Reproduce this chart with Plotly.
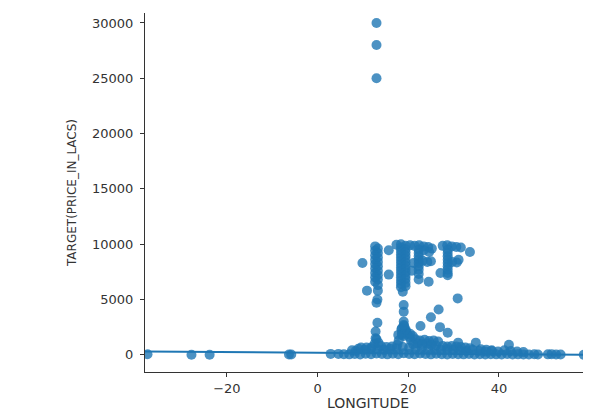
import plotly.graph_objects as go

# ---- data (LONGITUDE vs TARGET(PRICE_IN_LACS)) ----
outlier_lon = [13.0, 13.0, 13.0]
outlier_price = [30000, 28000, 25000]

west_lon = [-37.5, -27.8, -23.8, -6.3, -5.8, 2.9, 4.6]
west_price = [50, 0, 0, 20, 20, 80, 80]

band_lon = [5.8, 7.0, 8.2, 9.4, 10.6, 11.8, 13.0, 14.2, 15.4, 16.6,
            17.8, 19.0, 20.2, 21.4, 22.6, 23.8, 25.0, 26.2, 27.4, 28.6,
            29.8, 31.0, 32.2, 33.4, 34.6, 35.8, 37.0, 38.2, 39.4, 40.6,
            41.8, 43.0, 44.2, 45.4, 46.6, 47.8, 48.6, 50.8, 51.6, 52.6,
            53.6, 58.7, 59.7]
band_price = [60, 40, 80, 30, 90, 50, 120, 70, 40, 90,
              60, 150, 80, 50, 110, 70, 40, 90, 60, 30,
              80, 50, 40, 70, 30, 60, 20, 50, 40, 30,
              80, 20, 40, 30, 20, 50, 30, 40, 60, 30,
              20, 10, 20]

row2_lon = [7.6, 9.0, 10.4, 11.8, 13.2, 14.6, 16.0, 17.4, 18.8, 20.2,
            21.6, 23.0, 24.4, 25.8, 27.2, 28.6, 30.0, 31.4, 32.8, 34.2,
            35.6, 37.0, 38.4, 39.8, 41.2, 42.6, 44.0, 45.4]
row2_price = [400, 550, 450, 600, 500, 450, 550, 600, 700, 650,
              550, 600, 500, 550, 450, 500, 450, 400, 350, 450,
              350, 300, 350, 300, 400, 350, 300, 250]

row3_lon = [8.4, 9.6, 10.8, 12.0, 13.0, 14.0, 15.2, 16.4, 17.6, 18.6,
            19.6, 20.6, 21.6, 22.6, 23.6, 24.6, 25.6, 26.6, 27.6, 28.6,
            29.6, 30.6, 31.6, 32.6, 33.6, 34.9, 36.0, 37.2, 38.4, 42.2]
row3_price = [350, 650, 650, 700, 1400, 800, 700, 750, 900, 1800,
              2100, 1300, 1400, 1300, 1350, 1250, 1300, 1200, 800, 750,
              800, 750, 700, 650, 600, 1100, 500, 450, 400, 900]

row4_lon = [17.9, 18.5, 19.1, 19.7, 20.3, 21.1, 22.1, 23.1, 24.1, 25.1,
            26.1, 12.6, 13.4]
row4_price = [1300, 2300, 2600, 1900, 1600, 950, 1000, 950, 1000, 900,
              850, 1000, 1100]

mid_lon = [18.6, 19.4, 18.6, 19.4, 19.0, 19.0, 19.0, 18.8, 19.0, 19.0,
           17.8, 20.4, 21.0, 22.7, 25.0, 26.7, 27.0, 28.7, 31.0, 12.8,
           12.8, 13.2, 13.0, 13.2, 13.3, 10.9, 30.9]
mid_price = [1900, 2100, 2400, 2300, 3000, 3900, 4500, 5700, 2700, 1700,
             1800, 1900, 1700, 2600, 3400, 4100, 2500, 2000, 1100, 1500,
             2100, 2900, 4700, 5000, 5800, 5800, 5100]

col1_lon = [12.7, 13.3, 12.7, 13.3, 12.7, 13.3, 12.7, 13.3, 12.7, 13.3,
            12.7, 13.3, 12.7, 13.3, 12.7, 13.3, 12.7, 13.3, 9.9, 15.7, 15.7]
col1_price = [9800, 9600, 9400, 9200, 9000, 8800, 8600, 8400, 8200, 8000,
              7800, 7600, 7400, 7200, 7000, 6800, 6600, 6300, 8300, 9450, 7250]

col2_lon = [18.4, 18.4, 18.4, 18.4, 18.4, 18.4, 18.4, 18.4, 18.4, 18.4,
            18.4, 18.4, 18.4, 18.4,
            19.4, 19.4, 19.4, 19.4, 19.4, 19.4, 19.4, 19.4, 19.4, 19.4,
            19.4, 19.4, 19.4]
col2_price = [10000, 9700, 9400, 9100, 8800, 8500, 8200, 7900, 7600, 7300,
              7000, 6700, 6400, 6100,
              9850, 9550, 9250, 8950, 8650, 8350, 8050, 7750, 7450, 7150,
              6850, 6500, 6200]

col3_lon = [17.4, 20.4, 21.4, 22.4, 23.4, 24.4, 25.2, 24.6, 23.4,
            22.3, 22.3, 22.3, 22.3, 22.3, 22.3, 22.3, 22.3, 22.3,
            23.2, 24.2, 25.0, 21.2, 24.5, 27.1, 20.8]
col3_price = [9950, 9900, 9850, 9900, 9800, 9750, 9600, 9300, 9450,
              9500, 9200, 8900, 8600, 8300, 8000, 7700, 7300, 6800,
              8500, 8400, 8450, 8300, 6600, 7400, 7600]

col4_lon = [27.6, 28.6, 29.6, 30.6, 31.6, 33.6,
            28.7, 28.7, 28.7, 28.7, 28.7, 28.7, 28.7, 28.7, 28.7,
            29.7, 30.7, 31.1]
col4_price = [9850, 9900, 9800, 9750, 9700, 9300,
              9500, 9200, 8900, 8600, 8300, 8000, 7700, 7400, 7200,
              8400, 8350, 8600]

# regression line parameters
reg_intercept = 184
reg_slope = -3.06

x_range = [-38.05, 60.3]
y_range = [-1555, 30900]

lon = (outlier_lon + west_lon + band_lon + row2_lon + row3_lon + row4_lon
       + mid_lon + col1_lon + col2_lon + col3_lon + col4_lon)
price = (outlier_price + west_price + band_price + row2_price + row3_price
         + row4_price + mid_price + col1_price + col2_price + col3_price
         + col4_price)

blue = "#1f77b4"
ink = "#333333"

fig = go.Figure()
fig.add_trace(go.Scatter(
    x=lon, y=price, mode="markers",
    marker=dict(color=blue, size=10, opacity=0.8, line=dict(width=0)),
    showlegend=False,
))
fig.add_trace(go.Scatter(
    x=x_range,
    y=[reg_intercept + reg_slope * x for x in x_range],
    mode="lines", line=dict(color=blue, width=2),
    showlegend=False,
))

axis_common = dict(
    showline=True, linecolor=ink, linewidth=1,
    ticks="outside", ticklen=4, tickwidth=1, tickcolor=ink,
    showgrid=False, zeroline=False,
    tickfont=dict(family="DejaVu Sans", size=13, color=ink),
)

# the page body adds an 8px offset, so the figure is sized to fit the window
fig.update_layout(
    width=583, height=403,
    margin=dict(l=137, r=0, t=5, b=39),
    paper_bgcolor="white", plot_bgcolor="white",
    font=dict(family="DejaVu Sans", size=12, color=ink),
    xaxis=dict(range=x_range, tickvals=[-20, 0, 20, 40],
               ticktext=["\u221220", "0", "20", "40"],
               ticklabelstandoff=0,
               title=dict(text="LONGITUDE", standoff=7,
                          font=dict(family="DejaVu Sans", size=14, color=ink)),
               **axis_common),
    yaxis=dict(range=y_range, tickvals=[0, 5000, 10000, 15000, 20000, 25000, 30000],
               ticktext=["0", "5000", "10000", "15000", "20000", "25000", "30000"],
               ticklabelstandoff=4,
               title=dict(text="TARGET(PRICE_IN_LACS)", standoff=12,
                          font=dict(family="DejaVu Sans", size=12, color=ink)),
               **axis_common),
)

fig.write_html("out.html")
